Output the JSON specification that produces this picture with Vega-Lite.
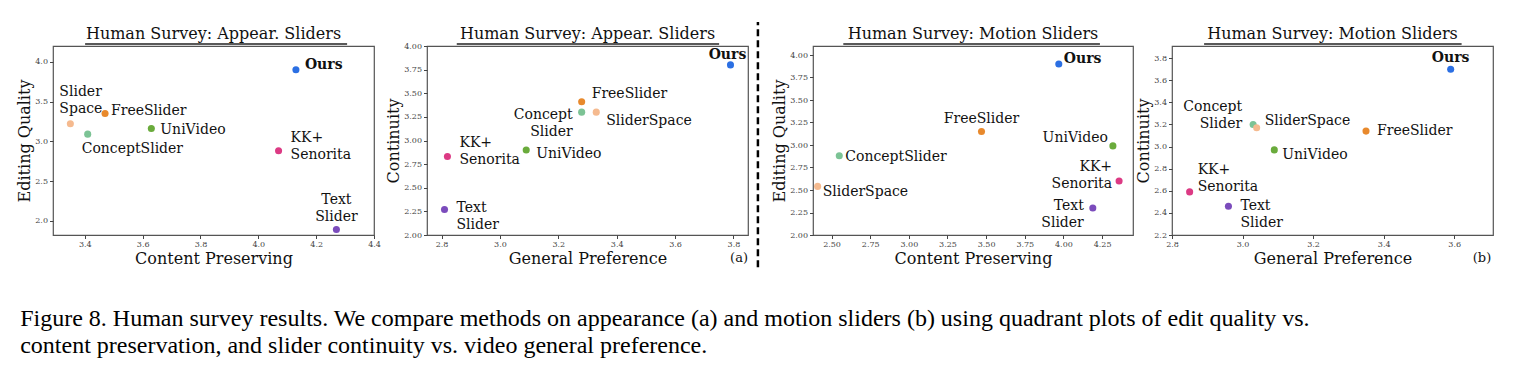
{
  "$schema": "https://vega.github.io/schema/vega-lite/v6.json",
  "background": "white",
  "padding": {"left": 16, "top": 20, "right": 0, "bottom": 0},
  "autosize": {"type": "pad"},
  "datasets": {
    "a1": [
      {"method": "Ours", "label": "Ours", "x": 4.13, "y": 3.90},
      {"method": "FreeSlider", "label": "FreeSlider", "x": 3.47, "y": 3.35},
      {"method": "SliderSpace", "label": "Slider\nSpace", "x": 3.35, "y": 3.22},
      {"method": "ConceptSlider", "label": "ConceptSlider", "x": 3.41, "y": 3.09},
      {"method": "UniVideo", "label": "UniVideo", "x": 3.63, "y": 3.16},
      {"method": "KK+Senorita", "label": "KK+\nSenorita", "x": 4.07, "y": 2.88},
      {"method": "TextSlider", "label": "Text\nSlider", "x": 4.27, "y": 1.89}
    ],
    "a2": [
      {"method": "Ours", "label": "Ours", "x": 3.79, "y": 3.80},
      {"method": "FreeSlider", "label": "FreeSlider", "x": 3.28, "y": 3.41},
      {"method": "ConceptSlider", "label": "Concept\nSlider", "x": 3.28, "y": 3.30},
      {"method": "SliderSpace", "label": "SliderSpace", "x": 3.33, "y": 3.30},
      {"method": "UniVideo", "label": "UniVideo", "x": 3.09, "y": 2.90},
      {"method": "KK+Senorita", "label": "KK+\nSenorita", "x": 2.82, "y": 2.83},
      {"method": "TextSlider", "label": "Text\nSlider", "x": 2.81, "y": 2.27}
    ],
    "m1": [
      {"method": "Ours", "label": "Ours", "x": 3.97, "y": 3.90},
      {"method": "FreeSlider", "label": "FreeSlider", "x": 3.47, "y": 3.15},
      {"method": "UniVideo", "label": "UniVideo", "x": 4.32, "y": 2.99},
      {"method": "ConceptSlider", "label": "ConceptSlider", "x": 2.55, "y": 2.88},
      {"method": "SliderSpace", "label": "SliderSpace", "x": 2.41, "y": 2.54},
      {"method": "KK+Senorita", "label": "KK+\nSenorita", "x": 4.36, "y": 2.60},
      {"method": "TextSlider", "label": "Text\nSlider", "x": 4.19, "y": 2.30}
    ],
    "m2": [
      {"method": "Ours", "label": "Ours", "x": 3.59, "y": 3.70},
      {"method": "ConceptSlider", "label": "Concept\nSlider", "x": 3.03, "y": 3.20},
      {"method": "SliderSpace", "label": "SliderSpace", "x": 3.04, "y": 3.17},
      {"method": "FreeSlider", "label": "FreeSlider", "x": 3.35, "y": 3.14},
      {"method": "UniVideo", "label": "UniVideo", "x": 3.09, "y": 2.97},
      {"method": "KK+Senorita", "label": "KK+\nSenorita", "x": 2.85, "y": 2.59},
      {"method": "TextSlider", "label": "Text\nSlider", "x": 2.96, "y": 2.46}
    ]
  },
  "title": {
    "text": ["Figure 8. Human survey results. We compare methods on appearance (a) and motion sliders (b) using quadrant plots of edit quality vs.", "content preservation, and slider continuity vs. video general preference."],
    "orient": "bottom", "anchor": "start", "frame": "bounds", "dx": 4,
    "font": "Liberation Serif", "fontSize": 24, "fontWeight": "normal", "color": "#000",
    "lineHeight": 27, "offset": 38
  },
  "bounds": "flush",
  "spacing": 0,
  "resolve": {"scale": {"x": "independent", "y": "independent"}},
  "hconcat": [
    {
      "width": 321, "height": 189,
      "data": {"name": "a1"},
      "title": {"text": "Human Survey: Appear. Sliders"},
      "encoding": {
        "x": {"field": "x", "type": "quantitative", "scale": {"domain": [3.29, 4.4], "nice": false, "zero": false}, "axis": {"title": "Content Preserving", "values": [3.4, 3.6, 3.8, 4.0, 4.2, 4.4], "format": ".1f"}},
        "y": {"field": "y", "type": "quantitative", "scale": {"domain": [1.82, 4.2], "nice": false, "zero": false}, "axis": {"title": "Editing Quality", "values": [2.0, 2.5, 3.0, 3.5, 4.0], "format": ".1f"}}
      },
      "layer": [
        {"data": {"values": [{"x": 3.401, "x2": 4.307, "y": 4.225}]}, "mark": {"type": "rule", "strokeWidth": 1.3, "color": "#222"}, "encoding": {"x2": {"field": "x2"}}},
        {"mark": {"type": "circle", "size": 50, "opacity": 1}, "encoding": {"color": {"field": "method", "type": "nominal", "legend": null, "scale": {"domain": ["Ours", "FreeSlider", "SliderSpace", "ConceptSlider", "UniVideo", "KK+Senorita", "TextSlider"], "range": ["#2b6fe3", "#e8892c", "#f5ba8f", "#7cc395", "#6aab3c", "#dc3a84", "#7b4cbc"]}}}},
        {"transform": [{"filter": "datum.method == 'Ours'"}], "mark": {"type": "text", "align": "left", "dx": 9, "dy": -5, "fontWeight": "bold"}, "encoding": {"text": {"field": "label"}}},
        {"transform": [{"filter": "datum.method == 'SliderSpace'"}], "mark": {"type": "text", "align": "left", "dx": -11, "dy": -32}, "encoding": {"text": {"field": "label"}}},
        {"transform": [{"filter": "datum.method == 'FreeSlider'"}], "mark": {"type": "text", "align": "left", "dx": 6, "dy": -3}, "encoding": {"text": {"field": "label"}}},
        {"transform": [{"filter": "datum.method == 'ConceptSlider'"}], "mark": {"type": "text", "align": "left", "dx": -6, "dy": 15}, "encoding": {"text": {"field": "label"}}},
        {"transform": [{"filter": "datum.method == 'UniVideo'"}], "mark": {"type": "text", "align": "left", "dx": 9, "dy": 1}, "encoding": {"text": {"field": "label"}}},
        {"transform": [{"filter": "datum.method == 'KK+Senorita'"}], "mark": {"type": "text", "align": "left", "dx": 12, "dy": -13}, "encoding": {"text": {"field": "label"}}},
        {"transform": [{"filter": "datum.method == 'TextSlider'"}], "mark": {"type": "text", "align": "center", "dx": 0, "dy": -29}, "encoding": {"text": {"field": "label"}}}
      ]
    },
    {"width": 53, "height": 189, "data": {"values": []}, "mark": "point", "view": {"stroke": null}},
    {
      "width": 321, "height": 189,
      "data": {"name": "a2"},
      "title": {"text": "Human Survey: Appear. Sliders", "offset": -21},
      "encoding": {
        "x": {"field": "x", "type": "quantitative", "scale": {"domain": [2.75, 3.85], "nice": false, "zero": false}, "axis": {"title": "General Preference", "values": [2.8, 3.0, 3.2, 3.4, 3.6, 3.8], "format": ".1f"}},
        "y": {"field": "y", "type": "quantitative", "scale": {"domain": [2.0, 4.0], "nice": false, "zero": false}, "axis": {"title": "Continuity", "values": [2.0, 2.25, 2.5, 2.75, 3.0, 3.25, 3.5, 3.75, 4.0], "format": ".2f"}}
      },
      "layer": [
        {"data": {"values": [{"x": 2.852, "x2": 3.751, "y": 4.021}]}, "mark": {"type": "rule", "strokeWidth": 1.3, "color": "#222"}, "encoding": {"x2": {"field": "x2"}}},
        {"mark": {"type": "circle", "size": 50, "opacity": 1}, "encoding": {"color": {"field": "method", "type": "nominal", "legend": null, "scale": {"domain": ["Ours", "FreeSlider", "SliderSpace", "ConceptSlider", "UniVideo", "KK+Senorita", "TextSlider"], "range": ["#2b6fe3", "#e8892c", "#f5ba8f", "#7cc395", "#6aab3c", "#dc3a84", "#7b4cbc"]}}}},
        {"transform": [{"filter": "datum.method == 'Ours'"}], "mark": {"type": "text", "align": "center", "dx": -3, "dy": -10, "fontWeight": "bold"}, "encoding": {"text": {"field": "label"}}},
        {"transform": [{"filter": "datum.method == 'FreeSlider'"}], "mark": {"type": "text", "align": "left", "dx": 10, "dy": -8}, "encoding": {"text": {"field": "label"}}},
        {"transform": [{"filter": "datum.method == 'ConceptSlider'"}], "mark": {"type": "text", "align": "right", "dx": -9, "dy": 3}, "encoding": {"text": {"field": "label"}}},
        {"transform": [{"filter": "datum.method == 'SliderSpace'"}], "mark": {"type": "text", "align": "left", "dx": 10, "dy": 9}, "encoding": {"text": {"field": "label"}}},
        {"transform": [{"filter": "datum.method == 'UniVideo'"}], "mark": {"type": "text", "align": "left", "dx": 10, "dy": 4}, "encoding": {"text": {"field": "label"}}},
        {"transform": [{"filter": "datum.method == 'KK+Senorita'"}], "mark": {"type": "text", "align": "left", "dx": 12, "dy": -14}, "encoding": {"text": {"field": "label"}}},
        {"transform": [{"filter": "datum.method == 'TextSlider'"}], "mark": {"type": "text", "align": "left", "dx": 12, "dy": -1}, "encoding": {"text": {"field": "label"}}},
        {"data": {"values": [{"tag": "(a)", "x": 3.85, "y": 1.757}]}, "mark": {"type": "text", "align": "right", "fontSize": 13}, "encoding": {"text": {"field": "tag"}}},
        {"data": {"values": [{"x": 3.884, "y": 1.66, "y2": 4.254}]}, "mark": {"type": "rule", "strokeDash": [7, 4], "strokeWidth": 2.5, "color": "#000"}, "encoding": {"y2": {"field": "y2"}}}
      ]
    },
    {"width": 65, "height": 189, "data": {"values": []}, "mark": "point", "view": {"stroke": null}},
    {
      "width": 320, "height": 189,
      "data": {"name": "m1"},
      "title": {"text": "Human Survey: Motion Sliders"},
      "encoding": {
        "x": {"field": "x", "type": "quantitative", "scale": {"domain": [2.38, 4.45], "nice": false, "zero": false}, "axis": {"title": "Content Preserving", "values": [2.5, 2.75, 3.0, 3.25, 3.5, 3.75, 4.0, 4.25], "format": ".2f"}},
        "y": {"field": "y", "type": "quantitative", "scale": {"domain": [2.0, 4.1], "nice": false, "zero": false}, "axis": {"title": "Editing Quality", "values": [2.0, 2.25, 2.5, 2.75, 3.0, 3.25, 3.5, 3.75, 4.0], "format": ".2f"}}
      },
      "layer": [
        {"data": {"values": [{"x": 2.576, "x2": 4.236, "y": 4.122}]}, "mark": {"type": "rule", "strokeWidth": 1.3, "color": "#222"}, "encoding": {"x2": {"field": "x2"}}},
        {"mark": {"type": "circle", "size": 50, "opacity": 1}, "encoding": {"color": {"field": "method", "type": "nominal", "legend": null, "scale": {"domain": ["Ours", "FreeSlider", "SliderSpace", "ConceptSlider", "UniVideo", "KK+Senorita", "TextSlider"], "range": ["#2b6fe3", "#e8892c", "#f5ba8f", "#7cc395", "#6aab3c", "#dc3a84", "#7b4cbc"]}}}},
        {"transform": [{"filter": "datum.method == 'Ours'"}], "mark": {"type": "text", "align": "left", "dx": 5, "dy": -5, "fontWeight": "bold"}, "encoding": {"text": {"field": "label"}}},
        {"transform": [{"filter": "datum.method == 'FreeSlider'"}], "mark": {"type": "text", "align": "center", "dx": 0, "dy": -13}, "encoding": {"text": {"field": "label"}}},
        {"transform": [{"filter": "datum.method == 'UniVideo'"}], "mark": {"type": "text", "align": "right", "dx": -5, "dy": -8}, "encoding": {"text": {"field": "label"}}},
        {"transform": [{"filter": "datum.method == 'ConceptSlider'"}], "mark": {"type": "text", "align": "left", "dx": 6, "dy": 1}, "encoding": {"text": {"field": "label"}}},
        {"transform": [{"filter": "datum.method == 'SliderSpace'"}], "mark": {"type": "text", "align": "left", "dx": 5, "dy": 6}, "encoding": {"text": {"field": "label"}}},
        {"transform": [{"filter": "datum.method == 'KK+Senorita'"}], "mark": {"type": "text", "align": "right", "dx": -7, "dy": -14}, "encoding": {"text": {"field": "label"}}},
        {"transform": [{"filter": "datum.method == 'TextSlider'"}], "mark": {"type": "text", "align": "right", "dx": -9, "dy": -2}, "encoding": {"text": {"field": "label"}}}
      ]
    },
    {"width": 39, "height": 189, "data": {"values": []}, "mark": "point", "view": {"stroke": null}},
    {
      "width": 321, "height": 189,
      "data": {"name": "m2"},
      "title": {"text": "Human Survey: Motion Sliders"},
      "encoding": {
        "x": {"field": "x", "type": "quantitative", "scale": {"domain": [2.8, 3.71], "nice": false, "zero": false}, "axis": {"title": "General Preference", "values": [2.8, 3.0, 3.2, 3.4, 3.6], "format": ".1f"}},
        "y": {"field": "y", "type": "quantitative", "scale": {"domain": [2.2, 3.91], "nice": false, "zero": false}, "axis": {"title": "Continuity", "values": [2.2, 2.4, 2.6, 2.8, 3.0, 3.2, 3.4, 3.6, 3.8], "format": ".1f"}}
      },
      "layer": [
        {"data": {"values": [{"x": 2.891, "x2": 3.621, "y": 3.928}]}, "mark": {"type": "rule", "strokeWidth": 1.3, "color": "#222"}, "encoding": {"x2": {"field": "x2"}}},
        {"mark": {"type": "circle", "size": 50, "opacity": 1}, "encoding": {"color": {"field": "method", "type": "nominal", "legend": null, "scale": {"domain": ["Ours", "FreeSlider", "SliderSpace", "ConceptSlider", "UniVideo", "KK+Senorita", "TextSlider"], "range": ["#2b6fe3", "#e8892c", "#f5ba8f", "#7cc395", "#6aab3c", "#dc3a84", "#7b4cbc"]}}}},
        {"transform": [{"filter": "datum.method == 'Ours'"}], "mark": {"type": "text", "align": "center", "dx": 0, "dy": -11, "fontWeight": "bold"}, "encoding": {"text": {"field": "label"}}},
        {"transform": [{"filter": "datum.method == 'ConceptSlider'"}], "mark": {"type": "text", "align": "right", "dx": -11, "dy": -17}, "encoding": {"text": {"field": "label"}}},
        {"transform": [{"filter": "datum.method == 'SliderSpace'"}], "mark": {"type": "text", "align": "left", "dx": 8, "dy": -7}, "encoding": {"text": {"field": "label"}}},
        {"transform": [{"filter": "datum.method == 'FreeSlider'"}], "mark": {"type": "text", "align": "left", "dx": 11, "dy": 0}, "encoding": {"text": {"field": "label"}}},
        {"transform": [{"filter": "datum.method == 'UniVideo'"}], "mark": {"type": "text", "align": "left", "dx": 8, "dy": 5}, "encoding": {"text": {"field": "label"}}},
        {"transform": [{"filter": "datum.method == 'KK+Senorita'"}], "mark": {"type": "text", "align": "left", "dx": 8, "dy": -22}, "encoding": {"text": {"field": "label"}}},
        {"transform": [{"filter": "datum.method == 'TextSlider'"}], "mark": {"type": "text", "align": "left", "dx": 12, "dy": 0}, "encoding": {"text": {"field": "label"}}},
        {"data": {"values": [{"tag": "(b)", "x": 3.705, "y": 1.992}]}, "mark": {"type": "text", "align": "right", "fontSize": 13}, "encoding": {"text": {"field": "tag"}}}
      ]
    }
  ],
  "config": {
    "font": "DejaVu Serif",
    "view": {"stroke": "#555", "strokeWidth": 1.2},
    "axis": {
      "grid": false, "domain": false, "ticks": true, "tickSize": 3.5, "tickColor": "#444", "tickWidth": 1,
      "labelFont": "DejaVu Serif", "labelFontSize": 8, "labelColor": "#444", "labelPadding": 2,
      "labelOverlap": false, "labelFlush": false, "labelBound": false,
      "titleFont": "DejaVu Serif", "titleFontSize": 16, "titleFontWeight": "normal", "titleColor": "#111", "titlePadding": 2
    },
    "text": {"font": "DejaVu Serif", "fontSize": 14, "lineBreak": "\n", "lineHeight": 17, "baseline": "middle", "color": "#111"},
    "title": {
      "font": "DejaVu Serif", "fontSize": 16, "fontWeight": "normal", "color": "#111", "anchor": "middle", "offset": 1
    }
  }
}
